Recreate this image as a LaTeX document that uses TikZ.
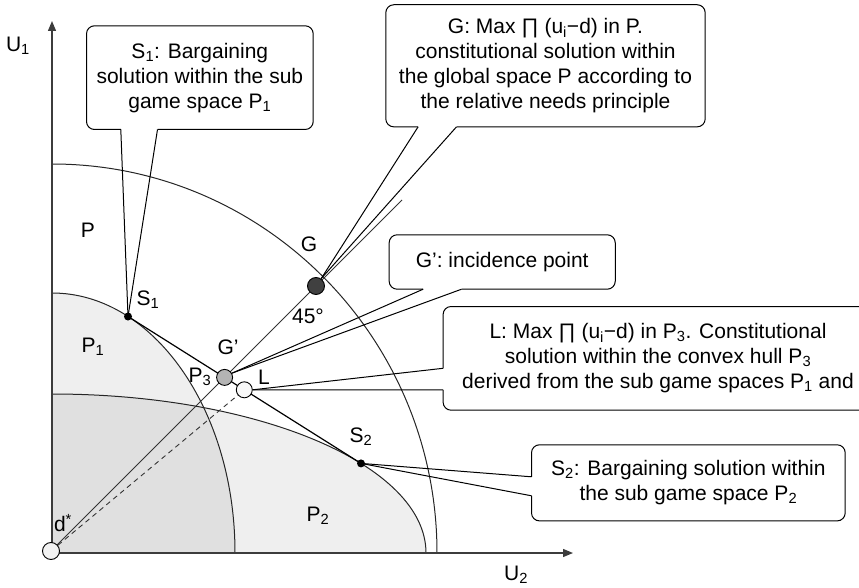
\documentclass[tikz,border=0pt]{standalone}
\usepackage{fontspec}
\setmainfont{Liberation Sans}
\usetikzlibrary{arrows.meta,calc}
\pgfdeclarelayer{bg}
\pgfsetlayers{bg,main}

\definecolor{lightfill}{HTML}{EFEFEF}
\definecolor{darkfill}{HTML}{E0E0E0}
\definecolor{axisgray}{HTML}{3C3C3C}
\definecolor{gdot}{HTML}{404040}
\definecolor{gpdot}{HTML}{B4B4B4}
\definecolor{ldot}{HTML}{F8F8F8}
\definecolor{ddot}{HTML}{F2F2F2}

\begin{document}
\begin{tikzpicture}[x=1pt,y=-1pt,
  font=\fontsize{21}{25}\selectfont,
  curve/.style={line width=1pt, black!85},
  axis/.style={line width=1.3pt, axisgray, -{Triangle[length=10pt,width=8pt]}},
  hull/.style={line width=1.2pt},
  ray/.style={line width=0.9pt, black!80},
  dashray/.style={line width=0.9pt, black!80, dash pattern=on 5pt off 4pt},
  outline/.style={line width=1pt, rounded corners=8pt},
  pointer/.style={line width=1pt},
  boxtext/.style={inner sep=0pt, align=center},
  lbl/.style={inner sep=0pt},
  bigdot/.style={circle, draw, line width=0.9pt, minimum size=17pt, inner sep=0pt},
  smalldot/.style={circle, fill=black, minimum size=8pt, inner sep=0pt},
]
\useasboundingbox (0,0) rectangle (859,588);
\clip (0,0) rectangle (859,588);

% origin and axis tips
\coordinate (O) at (52,553);
\coordinate (ytip) at (52,21);
\coordinate (xtip) at (573,553);
\coordinate (rayend) at (402,200);

% solution points
\node[bigdot, fill=ddot] (dstar) at (51,551) {};
\node[bigdot, fill=gdot] (G) at (316,286) {};
\node[bigdot, fill=gpdot, minimum size=16pt] (Gp) at (224.6,377.4) {};
\node[bigdot, fill=ldot, minimum size=16pt] (L) at (244.3,389.8) {};
\node[smalldot] (S1) at (128,316.5) {};
\node[smalldot] (S2) at (361,463.4) {};

% point labels
\node[lbl] (u1) at (18,46) {U\textsubscript{1}};
\node[lbl] (u2) at (516,575) {U\textsubscript{2}};
\node[lbl] (plbl) at (88,230) {P};
\node[lbl] (p1lbl) at (93,347) {P\textsubscript{1}};
\node[lbl] (s1lbl) at (148,300) {S\textsubscript{1}};
\node[lbl] (gplbl) at (228,347) {G’};
\node[lbl] (p3lbl) at (200,377) {P\textsubscript{3}};
\node[lbl] (llbl) at (264,377) {L};
\node[lbl] (anglbl) at (308,316) {45°};
\node[lbl] (glbl) at (309,244) {G};
\node[lbl] (s2lbl) at (361,437) {S\textsubscript{2}};
\node[lbl] (p2lbl) at (318,516) {P\textsubscript{2}};
\node[lbl] (dlbl) at (63,523) {d\textsuperscript{*}};

% callout boxes
\node[boxtext, minimum width=226.3pt, minimum height=103.3pt] (s1box) at (199.85,77.65)
  {S\textsubscript{1}: Bargaining\\solution within the sub\\game space P\textsubscript{1}};
\node[boxtext, minimum width=319pt, minimum height=121.7pt] (gbox) at (545.5,65.8)
  {G: Max ∏ (u\textsubscript{i}−d) in P.\\constitutional solution within\\the global space P according to\\the relative needs principle};
\node[boxtext, minimum width=225.7pt, minimum height=54pt] (gpbox) at (502.2,262)
  {G’: incidence point};
\node[boxtext, minimum width=440pt, minimum height=103.3pt] (lbox) at (663.3,358.35) {};
\node[boxtext] (ltext) at (658,358.35)
  {L: Max ∏ (u\textsubscript{i}−d) in P\textsubscript{3}. Constitutional\\solution within the convex hull P\textsubscript{3}\\derived from the sub game spaces P\textsubscript{1} and};
\node[boxtext, minimum width=313.3pt, minimum height=75.7pt] (s2box) at (688.35,482.85)
  {S\textsubscript{2}: Bargaining solution within\\the sub game space P\textsubscript{2}};

% pointer base points on the box edges
\coordinate (s1b1) at ($(s1box.south west)+(34.3,0)$);
\coordinate (s1b2) at ($(s1box.south west)+(71,0)$);
\coordinate (gb1) at ($(gbox.south west)+(32.3,0)$);
\coordinate (gb2) at ($(gbox.south west)+(70.7,0)$);
\coordinate (gpb1) at ($(gpbox.south west)+(34,0)$);
\coordinate (gpb2) at ($(gpbox.south west)+(72.4,0)$);
\coordinate (lb1) at ($(lbox.north west)+(0,61.8)$);
\coordinate (lb2) at ($(lbox.north west)+(0,83.3)$);
\coordinate (s2b1) at ($(s2box.north west)+(0,32)$);
\coordinate (s2b2) at ($(s2box.north west)+(0,51)$);

\begin{pgfonlayer}{bg}
  % game spaces
  \begin{scope}
    \clip (52,553) rectangle (470,100);
    \fill[lightfill] (O) ellipse [x radius=374, y radius=159];
    \fill[lightfill] (O) ellipse [x radius=183, y radius=260];
    \begin{scope}
      \clip (O) ellipse [x radius=183, y radius=260];
      \fill[darkfill] (O) ellipse [x radius=374, y radius=159];
    \end{scope}
    \draw[curve] (O) ellipse [x radius=183, y radius=260];
    \draw[curve] (O) ellipse [x radius=374, y radius=159];
    \draw[curve] (O) ellipse [x radius=385, y radius=389];
  \end{scope}

  % axes
  \draw[axis] (O) -- (ytip);
  \draw[axis] (O) -- (xtip);

  % convex hull edge and rays from the disagreement point
  \draw[hull] (S1.center) -- (S2.center);
  \draw[ray] (dstar.center) -- (rayend);
  \draw[dashray] (dstar.center) -- (L.center);

  % callout outlines
  \draw[outline] (s1b2) -- (s1box.south east) -- (s1box.north east) -- (s1box.north west) -- (s1box.south west) -- (s1b1);
  \draw[outline] (gb2) -- (gbox.south east) -- (gbox.north east) -- (gbox.north west) -- (gbox.south west) -- (gb1);
  \draw[outline] (gpb2) -- (gpbox.south east) -- (gpbox.north east) -- (gpbox.north west) -- (gpbox.south west) -- (gpb1);
  \draw[outline] (lb1) -- (lbox.north west) -- (lbox.north east) -- (lbox.south east) -- (lbox.south west) -- (lb2);
  \draw[outline] (s2b1) -- (s2box.north west) -- (s2box.north east) -- (s2box.south east) -- (s2box.south west) -- (s2b2);

  % callout pointers
  \draw[pointer] (s1b1) -- (S1.center);
  \draw[pointer] (s1b2) -- (S1.center);
  \draw[pointer] (gb1) -- (G.55);
  \draw[pointer] (gb2) -- (G.55);
  \draw[pointer] (gpb1) -- (Gp.30);
  \draw[pointer] (gpb2) -- (Gp.30);
  \draw[pointer] (lb1) -- (L.0);
  \draw[pointer] (lb2) -- (L.0);
  \draw[pointer] (s2b1) -- (S2.center);
  \draw[pointer] (s2b2) -- (S2.center);
\end{pgfonlayer}
\end{tikzpicture}
\end{document}
